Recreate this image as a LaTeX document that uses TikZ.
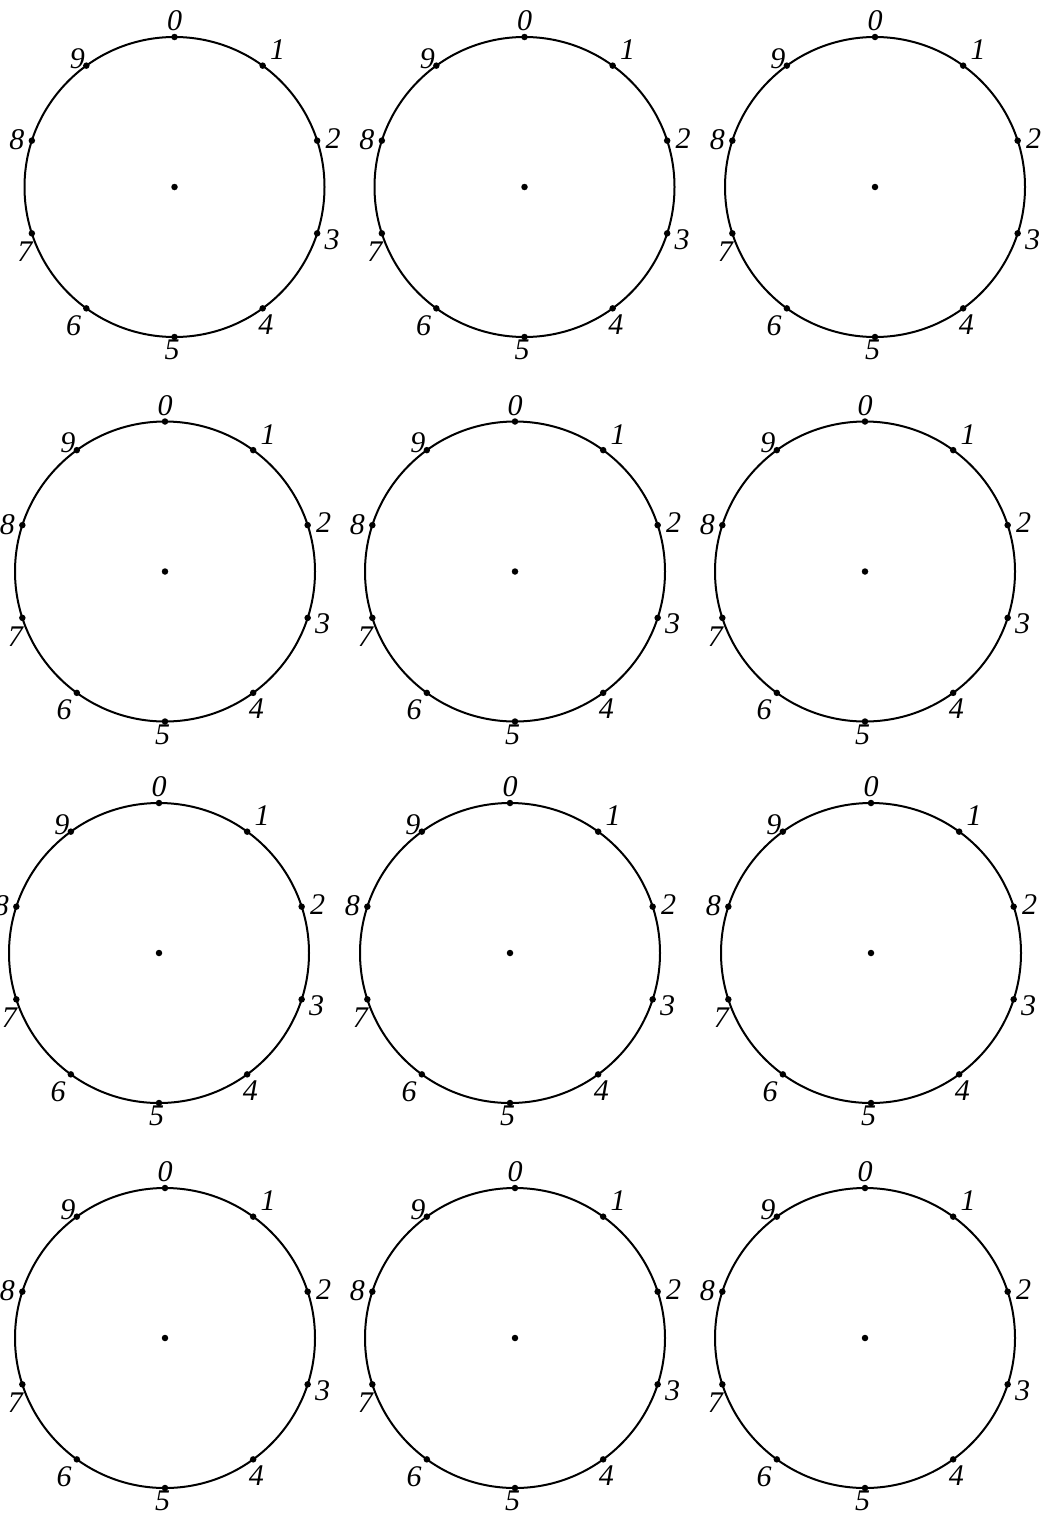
\documentclass[tikz,border=0pt]{standalone}
\usepackage{fontspec}
\setmainfont{Liberation Serif}
\begin{document}
\begin{tikzpicture}[x=1pt,y=-1pt,
  ring/.style={line width=2pt},
  dotpt/.style={circle,fill=black,inner sep=0pt,minimum size=6.5pt},
  digit/.style={inner sep=0pt,font=\fontsize{30}{30}\selectfont\itshape}]
\useasboundingbox (0,0) rectangle (1042,1515);
\foreach \cx/\cy/\n in {174.5/187/a, 524.5/187/b, 875/187/c,
                        165/571.5/d, 515/571.5/e, 865/571.5/f,
                        159/953/g, 510/953/h, 871/953/i,
                        165/1338/j, 515/1338/k, 865/1338/l}{
  \coordinate (\n-o) at (\cx,\cy);
  \draw[ring] (\n-o) circle[radius=150];
  \node[dotpt] (\n-c) at (\n-o) {};
  \foreach \k/\dx/\dy in {0/0/-16, 1/15/-16, 2/16/-2.4, 3/15/6,
                          4/3.3/16, 5/-2.5/13, 6/-12.8/17, 7/-7/18.5,
                          8/-15/-0.8, 9/-9/-7}{
    \node[dotpt] (\n-\k) at ({\cx+150*sin(36*\k)},{\cy-150*cos(36*\k)}) {};
    \node[digit] (\n-l\k) at ({\cx+150*sin(36*\k)+\dx},{\cy-150*cos(36*\k)+\dy}) {\k};
  }
}
\end{tikzpicture}
\end{document}
